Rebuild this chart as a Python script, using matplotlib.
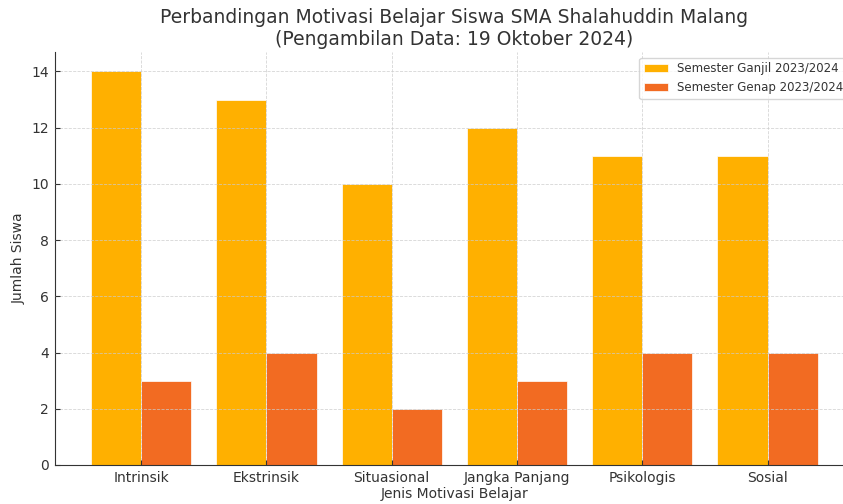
import matplotlib
matplotlib.use("Agg")
import matplotlib.pyplot as plt
import numpy as np

categories = ["Intrinsik", "Ekstrinsik", "Situasional", "Jangka Panjang", "Psikologis", "Sosial"]
ganjil = [14, 13, 10, 12, 11, 11]
genap = [3, 4, 2, 3, 4, 4]
labels = ["Semester Ganjil 2023/2024", "Semester Genap 2023/2024"]

plt.rcParams['font.family'] = ['DejaVu Sans']
plt.rcParams['text.color'] = '#333333'
plt.rcParams['axes.labelcolor'] = '#333333'
plt.rcParams['xtick.color'] = '#333333'
plt.rcParams['ytick.color'] = '#333333'

fig = plt.figure(figsize=(8.43, 5.04), dpi=100)
ax = fig.add_axes([0.065, 0.0774, 0.948, 0.82])

x = np.arange(len(categories))
w = 0.4
ax.bar(x - w/2, ganjil, w, color='#FFB000', label=labels[0], edgecolor='white', linewidth=0.5)
ax.bar(x + w/2, genap, w, color='#F26B22', label=labels[1], edgecolor='white', linewidth=0.5)

ax.set_xticks(x)
ax.set_xticklabels(categories, fontsize=10)
ax.tick_params(axis='both', direction='in', labelsize=10, pad=4)
ax.set_xlabel("Jenis Motivasi Belajar", fontsize=10, labelpad=2)
ax.set_ylabel("Jumlah Siswa", fontsize=10, labelpad=4)
ax.set_title("Perbandingan Motivasi Belajar Siswa SMA Shalahuddin Malang\n(Pengambilan Data: 19 Oktober 2024)", fontsize=13.5, pad=5)
ax.grid(True, linestyle='--', color='#cccccc', linewidth=0.6, alpha=0.8)
ax.set_axisbelow(False)
for s in ['top', 'right']:
    ax.spines[s].set_visible(False)
for s in ['left', 'bottom']:
    ax.spines[s].set_color('#333333')
ax.legend(loc='upper right', fontsize=8.5, frameon=True, bbox_to_anchor=(1.0, 1.0))
fig.savefig("out.png", dpi=100)
